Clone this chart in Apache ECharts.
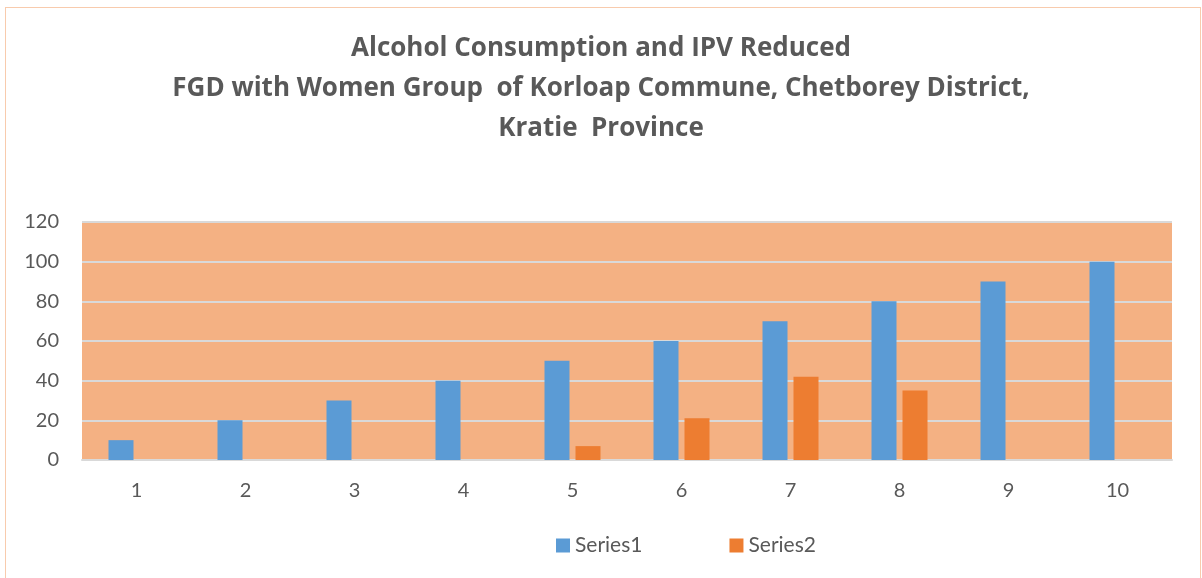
<!DOCTYPE html>
<html>
<head>
<meta charset="utf-8">
<script src="https://cdn.jsdelivr.net/npm/echarts@6/dist/echarts.min.js"></script>
<style>
    html, body { margin: 0; padding: 0; background: #fff; overflow: hidden; }
    #frame { position: absolute; left: 5px; top: 7px; width: 1194px; height: 600px; border: 1px solid #F8CBAD; }
    #chart { position: absolute; left: 0; top: 0; width: 1202px; height: 578px; }
</style>
</head>
<body>
<div id="frame"></div>
<div id="chart"></div>
<script>
var categories = ['1', '2', '3', '4', '5', '6', '7', '8', '9', '10'];
var series1 = [10, 20, 30, 40, 50, 60, 70, 80, 90, 100];
var series2 = [0, 0, 0, 0, 7, 21, 42, 35, 0, 0];

var textColor = '#595959';
var fontName = 'Lato';

var option = {
    animation: false,
    title: {
        text: 'Alcohol Consumption and IPV Reduced\nFGD with Women Group  of Korloap Commune, Chetborey District,\nKratie  Province',
        left: 'center',
        top: 24,
        textStyle: {
            fontFamily: 'Open Sans',
            fontWeight: 'bold',
            fontSize: 26,
            lineHeight: 40,
            color: textColor
        }
    },
    legend: {
        data: ['Series1', 'Series2'],
        bottom: 17,
        left: 551,
        itemWidth: 14,
        itemHeight: 14,
        itemGap: 87,
        icon: 'rect',
        textStyle: {
            fontFamily: fontName,
            fontSize: 21,
            color: textColor
        }
    },
    grid: {
        left: 82,
        right: 30,
        top: 222,
        bottom: 118,
        show: true,
        backgroundColor: '#F4B183',
        borderWidth: 0
    },
    xAxis: {
        type: 'category',
        data: categories,
        axisLine: { lineStyle: { color: '#D9D9D9', width: 2 } },
        axisTick: { show: false },
        axisLabel: {
            margin: 21,
            fontFamily: fontName,
            fontSize: 20,
            color: textColor
        }
    },
    yAxis: {
        type: 'value',
        min: 0,
        max: 120,
        interval: 20,
        axisLine: { show: false },
        axisTick: { show: false },
        splitLine: { lineStyle: { color: '#D9D9D9', width: 2 } },
        axisLabel: {
            margin: 23,
            fontFamily: fontName,
            fontSize: 20,
            color: textColor
        }
    },
    series: [
        {
            name: 'Series1',
            type: 'bar',
            data: series1,
            barWidth: 25,
            barGap: '24%',
            itemStyle: { color: '#5B9BD5' }
        },
        {
            name: 'Series2',
            type: 'bar',
            data: series2,
            barWidth: 25,
            itemStyle: { color: '#ED7D31' }
        }
    ]
};

var myChart = echarts.init(document.getElementById('chart'));
myChart.setOption(option);
</script>
</body>
</html>
